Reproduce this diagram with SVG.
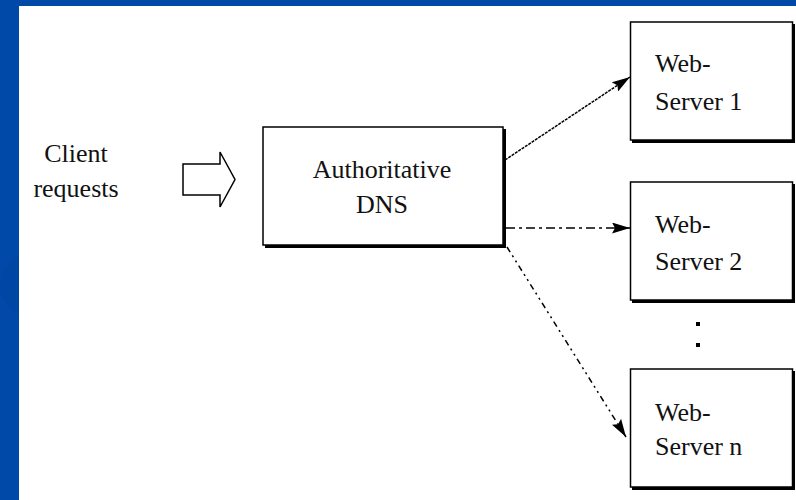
<svg xmlns="http://www.w3.org/2000/svg" width="796" height="500" viewBox="0 0 796 500">
  <style>
    .box { fill: #ffffff; stroke: #000000; stroke-width: 1.5; }
    .shadow { fill: #000000; }
    .lbl { font-family: "Liberation Serif", "Times New Roman", serif; font-size: 26px; fill: #111111; }
    .mid { text-anchor: middle; }
    .conn { fill: none; stroke: #000000; stroke-width: 1.5; }
  </style>
  <defs>
    <marker id="arrow" viewBox="0 0 18 11" refX="18" refY="5.5" markerWidth="18" markerHeight="11" markerUnits="userSpaceOnUse" orient="auto">
      <path d="M0,0 L18,5.5 L0,11 L3,5.5 Z" fill="#000000"/>
    </marker>
    <clipPath id="leftband">
      <rect x="0" y="0" width="19" height="500"/>
    </clipPath>
  </defs>

  <rect x="0" y="0" width="796" height="500" fill="#ffffff"/>
  <g id="frame">
    <rect x="0" y="0" width="796" height="6" fill="#0049A8"/>
    <rect x="0" y="0" width="19" height="500" fill="#0049A8"/>
    <ellipse cx="60" cy="285" rx="60" ry="40" fill="#0046A3" clip-path="url(#leftband)"/>
  </g>

  <g id="client">
    <text class="lbl mid" x="76" y="162">Client</text>
    <text class="lbl mid" x="76" y="197">requests</text>
    <path d="M183,164 L220,164 L220,152 L235,179.5 L220,207 L220,195 L183,195 Z" fill="#ffffff" stroke="#000000" stroke-width="1.5"/>
  </g>

  <g id="dns">
    <rect class="shadow" x="265" y="129" width="241" height="119"/>
    <rect class="box" x="263" y="127" width="240" height="118"/>
    <text class="lbl mid" x="382" y="178">Authoritative</text>
    <text class="lbl mid" x="382" y="213">DNS</text>
  </g>

  <g id="server1">
    <rect class="shadow" x="632" y="24" width="163" height="119"/>
    <rect class="box" x="630.5" y="22" width="162" height="118"/>
    <text class="lbl" x="655" y="72">Web-</text>
    <text class="lbl" x="655" y="110">Server 1</text>
  </g>

  <g id="server2">
    <rect class="shadow" x="632" y="184" width="163" height="119"/>
    <rect class="box" x="630.5" y="182" width="162" height="118"/>
    <text class="lbl" x="655" y="233">Web-</text>
    <text class="lbl" x="655" y="270">Server 2</text>
  </g>

  <g id="dots">
    <rect x="696" y="322" width="4" height="4" fill="#000000"/>
    <rect x="696" y="343" width="4" height="4" fill="#000000"/>
  </g>

  <g id="servern">
    <rect class="shadow" x="632" y="371" width="163" height="119"/>
    <rect class="box" x="630.5" y="369" width="162" height="118"/>
    <text class="lbl" x="655" y="421">Web-</text>
    <text class="lbl" x="655" y="455">Server n</text>
  </g>

  <g id="connectors">
    <line class="conn" x1="505" y1="160" x2="630" y2="77" stroke-dasharray="3 1" marker-end="url(#arrow)"/>
    <line class="conn" x1="506" y1="228" x2="630" y2="228" stroke-dasharray="9 4 3 4" marker-end="url(#arrow)"/>
    <line class="conn" x1="507" y1="247" x2="626" y2="437" stroke-dasharray="6 4 2 4 2 4" marker-end="url(#arrow)"/>
  </g>
</svg>
